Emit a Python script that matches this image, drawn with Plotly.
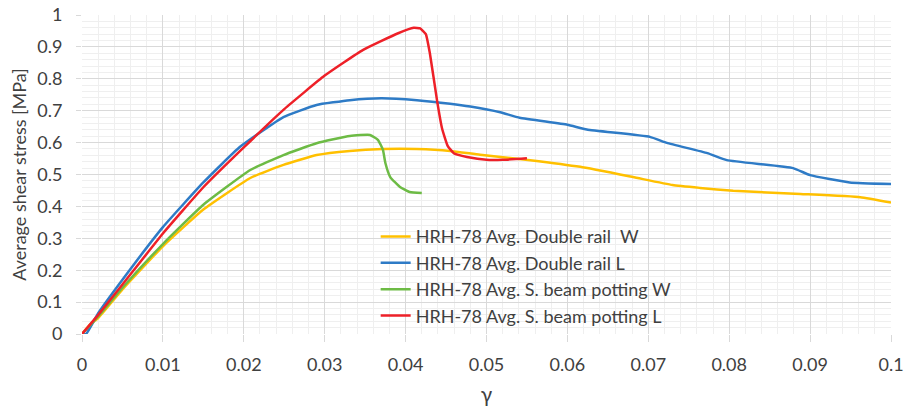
import plotly.graph_objects as go

# Shear strain (gamma) and average shear stress [MPa] for each configuration
dr_w_x = [0, 0.001, 0.002, 0.005, 0.01, 0.015, 0.0208, 0.0249, 0.029, 0.0331, 0.0372, 0.0414,
          0.0455, 0.0492, 0.0554, 0.0616, 0.0681, 0.073, 0.0764, 0.0805, 0.0888, 0.0962, 0.1]
dr_w_y = [0, 0.03, 0.05, 0.14, 0.275, 0.39, 0.489, 0.53, 0.561, 0.574, 0.58, 0.58,
          0.574, 0.562, 0.545, 0.524, 0.492, 0.467, 0.458, 0.449, 0.439, 0.429, 0.412]

dr_l_x = [0, 0.0005, 0.002, 0.005, 0.01, 0.015, 0.0195, 0.0249, 0.029, 0.0331, 0.037, 0.0414,
          0.0455, 0.048, 0.0517, 0.0541, 0.06, 0.0624, 0.0702, 0.0723, 0.0773, 0.0797,
          0.0879, 0.09, 0.0949, 0.1]
dr_l_y = [0, 0.0, 0.065, 0.17, 0.335, 0.475, 0.586, 0.68, 0.718, 0.733, 0.739, 0.733,
          0.722, 0.713, 0.695, 0.678, 0.656, 0.641, 0.618, 0.599, 0.567, 0.545,
          0.52, 0.498, 0.475, 0.47]

sb_w_x = [0, 0.002, 0.005, 0.01, 0.015, 0.0208, 0.0249, 0.029, 0.0331, 0.0356,
          0.0366, 0.0372, 0.0375, 0.0381, 0.0393, 0.0405, 0.042]
sb_w_y = [0, 0.055, 0.145, 0.282, 0.405, 0.514, 0.561, 0.598, 0.621, 0.624,
          0.608, 0.577, 0.536, 0.492, 0.461, 0.445, 0.442]

sb_l_x = [0, 0.002, 0.005, 0.01, 0.015, 0.02, 0.025, 0.03, 0.0347, 0.039, 0.041, 0.0418,
          0.0425, 0.043, 0.0439, 0.0445, 0.0452, 0.046, 0.0476, 0.05, 0.052, 0.055]
sb_l_y = [0, 0.06, 0.155, 0.315, 0.46, 0.585, 0.705, 0.81, 0.89, 0.942, 0.96, 0.958,
          0.94, 0.88, 0.73, 0.645, 0.59, 0.566, 0.555, 0.546, 0.546, 0.551]

series_names = ["HRH-78 Avg. Double rail  W", "HRH-78 Avg. Double rail L",
                "HRH-78 Avg. S. beam potting W", "HRH-78 Avg. S. beam potting L"]
series_colors = ["#FFC000", "#2E7BC6", "#6DBB45", "#EE2028"]

x_ticks = [0, 0.01, 0.02, 0.03, 0.04, 0.05, 0.06, 0.07, 0.08, 0.09, 0.1]
x_tick_text = ["0", "0.01", "0.02", "0.03", "0.04", "0.05", "0.06", "0.07", "0.08", "0.09", "0.1"]
y_ticks = [0, 0.1, 0.2, 0.3, 0.4, 0.5, 0.6, 0.7, 0.8, 0.9, 1]
y_tick_text = ["0", "0.1", "0.2", "0.3", "0.4", "0.5", "0.6", "0.7", "0.8", "0.9", "1"]

FONT = "Lato"
TEXT_COLOR = "#404040"

fig = go.Figure()
for xs, ys, name, color in zip([dr_w_x, dr_l_x, sb_w_x, sb_l_x],
                               [dr_w_y, dr_l_y, sb_w_y, sb_l_y],
                               series_names, series_colors):
    fig.add_trace(go.Scatter(x=xs, y=ys, mode="lines", name=name,
                             line=dict(color=color, width=2.5, shape="spline", smoothing=0.4)))

fig.update_layout(
    width=905, height=414,
    margin=dict(l=82, r=14, t=15, b=80),
    paper_bgcolor="white", plot_bgcolor="white",
    font=dict(family=FONT, color=TEXT_COLOR, size=18),
    legend=dict(x=0.363, y=0.363, xanchor="left", yanchor="top",
                bgcolor="rgba(0,0,0,0)", font=dict(size=18, color=TEXT_COLOR),
                tracegroupgap=0, itemwidth=30),
    xaxis=dict(range=[0, 0.1], tickvals=x_ticks, ticktext=x_tick_text, automargin=False,
               showgrid=True, gridcolor="#D9D9D9", gridwidth=1, zeroline=False,
               showline=False, ticks="outside", ticklen=7, tickcolor="#D9D9D9",
               ticklabelstandoff=7,
               minor=dict(dtick=0.002, showgrid=True, gridcolor="#EFEFEF", gridwidth=1),
               title=dict(text="γ", font=dict(size=21, color=TEXT_COLOR), standoff=13),
               tickfont=dict(size=18, color=TEXT_COLOR)),
    yaxis=dict(range=[0, 1], tickvals=y_ticks, ticktext=y_tick_text, automargin=False,
               showgrid=True, gridcolor="#D9D9D9", gridwidth=1, zeroline=False,
               showline=False, ticks="outside", ticklen=5, tickcolor="#D9D9D9",
               ticklabelstandoff=10,
               minor=dict(dtick=0.02, showgrid=True, gridcolor="#EFEFEF", gridwidth=1),
               title=dict(text="Average shear stress [MPa]", font=dict(size=18, color=TEXT_COLOR),
                          standoff=5),
               tickfont=dict(size=18, color=TEXT_COLOR)),
)

fig.write_html("out.html")
